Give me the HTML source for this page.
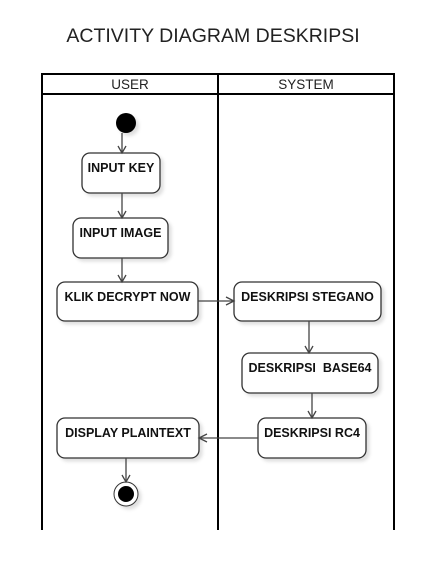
<!DOCTYPE html>
<html><head><meta charset="utf-8"><style>body{margin:0;background:#fff}</style></head><body>
<svg width="442" height="570" viewBox="0 0 442 570" xmlns="http://www.w3.org/2000/svg" font-family="Liberation Sans, Arial, sans-serif">
<defs><filter id="s" x="-20%" y="-20%" width="150%" height="150%"><feDropShadow dx="3" dy="3" stdDeviation="1.5" flood-color="#000" flood-opacity="0.12"/></filter></defs>
<text x="213" y="42" font-size="19.5" text-anchor="middle" fill="#222">ACTIVITY DIAGRAM DESKRIPSI</text>
<g stroke="#000" stroke-width="2" fill="none">
<path d="M42 530V74H394V530"/><line x1="218" y1="74" x2="218" y2="530"/><line x1="42" y1="94" x2="394" y2="94"/>
</g>
<text x="130" y="89" font-size="13.5" text-anchor="middle" fill="#222">USER</text>
<text x="306" y="89" font-size="13.5" text-anchor="middle" fill="#222">SYSTEM</text>
<g fill="#fff" stroke="#333" stroke-width="1.3" filter="url(#s)">
<rect x="82" y="153" width="78" height="40" rx="8"/>
<rect x="73" y="218" width="95" height="40" rx="8"/>
<rect x="57" y="282" width="141" height="39" rx="8"/>
<rect x="234" y="282" width="147" height="39" rx="8"/>
<rect x="242" y="353" width="136" height="40" rx="8"/>
<rect x="258" y="418" width="108" height="40" rx="8"/>
<rect x="57" y="418" width="142" height="40" rx="8"/>
</g>
<g font-size="12.5" font-weight="bold" fill="#111" text-anchor="middle">
<text x="121" y="172">INPUT KEY</text>
<text x="120.5" y="237">INPUT IMAGE</text>
<text x="127.5" y="301">KLIK DECRYPT NOW</text>
<text x="307.5" y="301">DESKRIPSI STEGANO</text>
<text x="310" y="372" xml:space="preserve">DESKRIPSI  BASE64</text>
<text x="312" y="437">DESKRIPSI RC4</text>
<text x="128" y="437">DISPLAY PLAINTEXT</text>
</g>
<circle cx="126" cy="123" r="10" fill="#000" filter="url(#s)"/>
<circle cx="126" cy="494" r="12" fill="#fff" stroke="#333" stroke-width="1" filter="url(#s)"/>
<circle cx="126" cy="494" r="8" fill="#000"/>
<g stroke="#444" stroke-width="1.3" fill="none">
<line x1="122" y1="133" x2="122" y2="153"/><path d="M118 146l4 7 4-7"/>
<line x1="122" y1="193" x2="122" y2="218"/><path d="M118 211l4 7 4-7"/>
<line x1="122" y1="258" x2="122" y2="282"/><path d="M118 275l4 7 4-7"/>
<line x1="198" y1="301" x2="234" y2="301"/><path d="M226 297l8 4-8 4"/>
<line x1="309" y1="321" x2="309" y2="353"/><path d="M305 346l4 7 4-7"/>
<line x1="312" y1="393" x2="312" y2="418"/><path d="M308 411l4 7 4-7"/>
<line x1="258" y1="438" x2="199" y2="438"/><path d="M207 434l-8 4 8 4"/>
<line x1="126" y1="458" x2="126" y2="482"/><path d="M122 475l4 7 4-7"/>
</g>
</svg>
</body></html>
